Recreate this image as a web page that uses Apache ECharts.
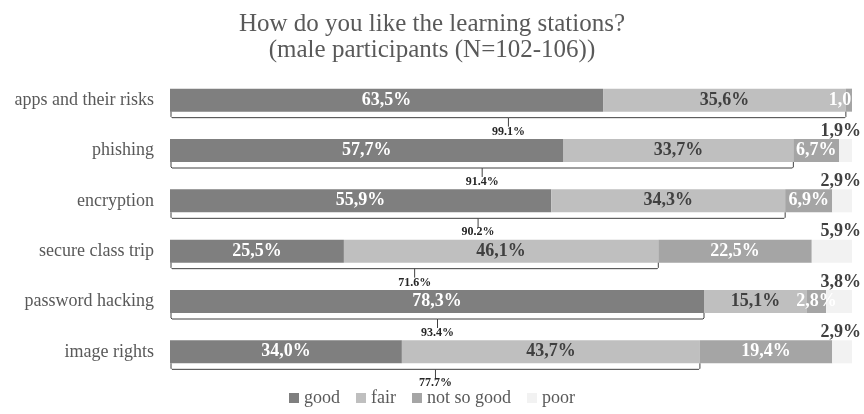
<!DOCTYPE html>
<html>
<head>
<meta charset="utf-8">
<script src="https://cdn.jsdelivr.net/npm/echarts@6/dist/echarts.min.js"></script>
<style>html,body{margin:0;padding:0;background:#fff}#c{width:864px;height:414px}</style>
</head>
<body>
<div id="c"></div>
<script>
const categories = ['apps and their risks','phishing','encryption','secure class trip','password hacking','image rights'];
const good = [63.5, 57.7, 55.9, 25.5, 78.3, 34.0];
const fair = [35.6, 33.7, 34.3, 46.1, 15.1, 43.7];
const notSoGood = [1.0, 6.7, 6.9, 22.5, 2.8, 19.4];
const poor = [0, 1.9, 2.9, 5.9, 3.8, 2.9];
const bracketEnd = [99.1, 91.4, 90.2, 71.6, 78.3, 77.7];
const bracketLabels = ['99.1%', '91.4%', '90.2%', '71.6%', '93.4%', '77.7%'];

const FONT = '"Liberation Serif", "Times New Roman", serif';
const fmt = v => (v === 0 ? '' : v.toFixed(1).replace('.', ',') + '%');
const BAR_W = 23;

function seg(name, data, color, labelColor, extra) {
  return Object.assign({
    name, type: 'bar', stack: 'a', data, barWidth: BAR_W,
    itemStyle: { color },
    label: {
      show: true, position: 'inside', color: labelColor,
      fontFamily: FONT, fontSize: 18, fontWeight: 'bold',
      formatter: p => fmt(p.value)
    }
  }, extra || {});
}

const chart = echarts.init(document.getElementById('c'));
chart.setOption({
  animation: false,
  backgroundColor: '#fff',
  title: {
    text: 'How do you like the learning stations?\n(male participants (N=102-106))',
    left: 'center', top: 6,
    textStyle: { fontFamily: FONT, fontSize: 25, fontWeight: 'normal', color: '#595959', lineHeight: 26 }
  },
  legend: {
    bottom: 2, left: 'center',
    itemWidth: 10, itemHeight: 10, itemGap: 16,
    icon: 'rect',
    textStyle: { fontFamily: FONT, fontSize: 18, color: '#595959' },
    data: ['good', 'fair', 'not so good', 'poor']
  },
  grid: { left: 170, right: 12, top: 75, bottom: 37 },
  xAxis: { type: 'value', min: 0, max: 100, show: false },
  yAxis: {
    type: 'category', data: categories, inverse: true,
    axisLine: { show: false }, axisTick: { show: false },
    axisLabel: { fontFamily: FONT, fontSize: 18, color: '#595959', margin: 16 }
  },
  series: [
    seg('good', good, '#7f7f7f', '#ffffff'),
    seg('fair', fair, '#bfbfbf', '#404040'),
    seg('not so good', notSoGood, '#a5a5a5', '#ffffff'),
    seg('poor', poor, '#f2f2f2', '#404040', {
      label: {
        show: true, position: ['100%', 0], align: 'right', verticalAlign: 'bottom',
        offset: [9, 1], color: '#404040',
        fontFamily: FONT, fontSize: 18, fontWeight: 'bold',
        formatter: p => fmt(p.value)
      }
    }),
    {
      type: 'custom',
      silent: true,
      data: bracketEnd.map((v, i) => [v, i]),
      encode: { x: 0, y: 1 },
      z: 5,
      renderItem: (params, api) => {
        const i = api.value(1);
        const s = api.coord([0, i]);
        const e = api.coord([api.value(0), i]);
        const x0 = s[0] + 1, x1 = e[0];
        const y = s[1] + BAR_W / 2 + 6;
        const xc = (x0 + x1) / 2;
        const style = { stroke: '#404040', lineWidth: 1, fill: null };
        return {
          type: 'group',
          children: [
            { type: 'polyline', shape: { points: [[x0, y - 6], [x0, y - 1], [x0 + 1, y], [x1 - 1, y], [x1, y - 1], [x1, y - 6]] }, style },
            { type: 'line', shape: { x1: xc, y1: y, x2: xc, y2: y + 9 }, style },
            { type: 'text', style: { text: bracketLabels[i], x: xc, y: y + 8, align: 'center', verticalAlign: 'top',
              font: 'bold 12px ' + FONT, fill: '#262626' } }
          ]
        };
      }
    }
  ]
});
</script>
</body>
</html>
